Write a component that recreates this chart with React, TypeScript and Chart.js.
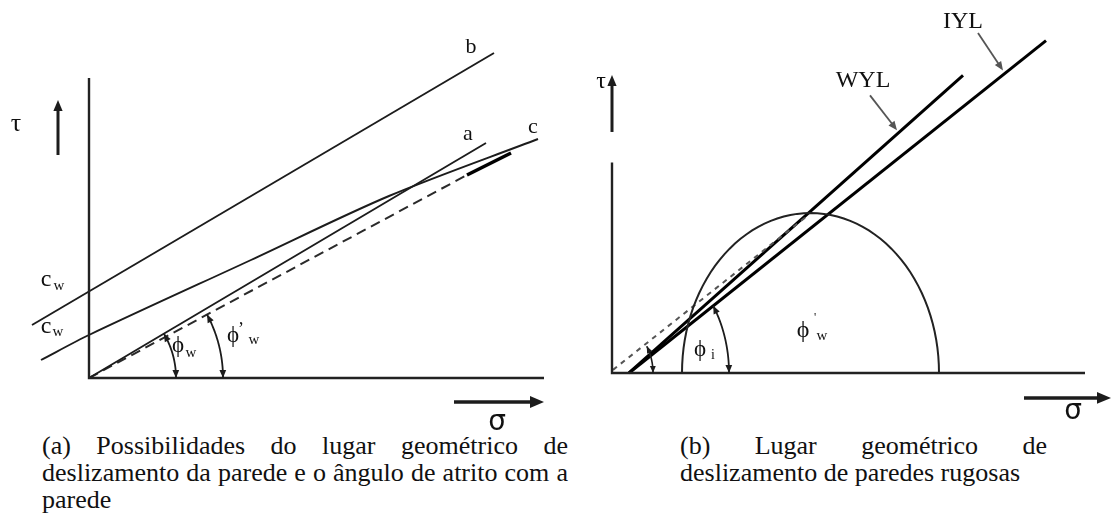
import React, { useEffect, useRef } from "react";
import { Chart, registerables } from "chart.js";

Chart.register(...registerables);

type Pt = { x: number; y: number };

// ---------- Panel (a): wall yield loci and wall friction angle ----------
const axesA: Pt[] = [
  { x: 0, y: 30 },
  { x: 0, y: 0 },
  { x: 45.5, y: 0 },
];
const locusB: Pt[] = [
  { x: -5.7, y: 5.3 },
  { x: 40.5, y: 32.5 },
];
const locusA: Pt[] = [
  { x: 0, y: 0 },
  { x: 39.7, y: 23.5 },
];
const locusC: Pt[] = [
  { x: -4.8, y: 1.8 },
  { x: 0, y: 4.3 },
  { x: 16.2, y: 11.8 },
  { x: 30.0, y: 18.2 },
  { x: 44.9, y: 23.9 },
];
const secantDashed: Pt[] = [
  { x: 0, y: 0 },
  { x: 37.8, y: 20.3 },
];
const secantSolid: Pt[] = [
  { x: 37.8, y: 20.3 },
  { x: 42.2, y: 22.5 },
];

// ---------- Panel (b): rough walls ----------
const axesB: Pt[] = [
  { x: 0, y: 16.9 },
  { x: 0, y: 0 },
  { x: 47.3, y: 0 },
];
const wyl: Pt[] = [
  { x: 1.7, y: 0 },
  { x: 35.1, y: 23.9 },
];
const iyl: Pt[] = [
  { x: 1.7, y: 0 },
  { x: 43.4, y: 26.7 },
];
const wallDashed: Pt[] = [
  { x: 0.1, y: 0.25 },
  { x: 19.5, y: 12.6 },
];
const mohrCenter = 19.85;
const mohrRadius = 12.85;

const angleOf = (p: Pt, q: Pt) => Math.atan2(q.y - p.y, q.x - p.x);

type Arrow = { from: Pt; to: Pt; width: number; color: string; head: number };
type Arc = {
  cx: number;
  cy: number;
  r: number;
  a0: number;
  a1: number;
  width: number;
  color: string;
  head: number;
};
type Label = { x: number; y: number; text: string; size: number; family?: string };

const SERIF = '"Liberation Serif", "DejaVu Serif", serif';
const SANS = '"DejaVu Sans", sans-serif';

function drawHead(
  ctx: CanvasRenderingContext2D,
  from: number[],
  tip: number[],
  len: number,
  color: string
) {
  const dx = tip[0] - from[0];
  const dy = tip[1] - from[1];
  const d = Math.hypot(dx, dy) || 1;
  const ux = dx / d;
  const uy = dy / d;
  const w = len * 0.42;
  ctx.beginPath();
  ctx.moveTo(tip[0], tip[1]);
  ctx.lineTo(tip[0] - ux * len - uy * w, tip[1] - uy * len + ux * w);
  ctx.lineTo(tip[0] - ux * len + uy * w, tip[1] - uy * len - ux * w);
  ctx.closePath();
  ctx.fillStyle = color;
  ctx.fill();
}

function overlay(arcs: Arc[], arrows: Arrow[], labels: Label[]) {
  return {
    id: "overlay",
    afterDatasetsDraw(chart: Chart) {
      const ctx = chart.ctx;
      const sx = chart.scales.x;
      const sy = chart.scales.y;
      const P = (p: Pt) => [sx.getPixelForValue(p.x), sy.getPixelForValue(p.y)];
      ctx.save();
      ctx.lineCap = "butt";
      for (const a of arcs) {
        const n = 60;
        const pts: number[][] = [];
        for (let i = 0; i <= n; i++) {
          const t = a.a0 + ((a.a1 - a.a0) * i) / n;
          pts.push(P({ x: a.cx + a.r * Math.cos(t), y: a.cy + a.r * Math.sin(t) }));
        }
        ctx.beginPath();
        ctx.moveTo(pts[0][0], pts[0][1]);
        for (let i = 1; i <= n; i++) ctx.lineTo(pts[i][0], pts[i][1]);
        ctx.strokeStyle = a.color;
        ctx.lineWidth = a.width;
        ctx.stroke();
        if (a.head > 0) {
          drawHead(ctx, pts[6], pts[0], a.head, a.color);
          drawHead(ctx, pts[n - 6], pts[n], a.head, a.color);
        }
      }
      for (const ar of arrows) {
        const f = P(ar.from);
        const t = P(ar.to);
        const d = Math.hypot(t[0] - f[0], t[1] - f[1]);
        const k = (d - ar.head * 0.8) / d;
        ctx.beginPath();
        ctx.moveTo(f[0], f[1]);
        ctx.lineTo(f[0] + (t[0] - f[0]) * k, f[1] + (t[1] - f[1]) * k);
        ctx.strokeStyle = ar.color;
        ctx.lineWidth = ar.width;
        ctx.stroke();
        drawHead(ctx, f, t, ar.head, ar.color);
      }
      ctx.fillStyle = "#111";
      ctx.textAlign = "center";
      ctx.textBaseline = "middle";
      for (const l of labels) {
        ctx.font = `${l.size}px ${l.family || SERIF}`;
        const p = P(l);
        ctx.fillText(l.text, p[0], p[1]);
      }
      ctx.restore();
    },
  };
}

function line(data: Pt[], color: string, width: number, extra: Record<string, unknown> = {}) {
  return {
    data,
    showLine: true,
    borderColor: color,
    borderWidth: width,
    pointRadius: 0,
    fill: false,
    ...extra,
  };
}

function baseOptions(xmin: number, xmax: number, ymin: number, ymax: number) {
  return {
    responsive: false,
    animation: false as const,
    layout: { padding: 0 },
    plugins: { legend: { display: false }, tooltip: { enabled: false } },
    scales: {
      x: { type: "linear" as const, display: false, min: xmin, max: xmax },
      y: { type: "linear" as const, display: false, min: ymin, max: ymax },
    },
  };
}

function configA() {
  const ink = "#1c1c1c";
  const arcs: Arc[] = [
    { cx: 0, cy: 0, r: 8.7, a0: angleOf(locusA[0], locusA[1]), a1: 0, width: 1.8, color: ink, head: 8 },
    { cx: 0, cy: 0, r: 13.4, a0: angleOf(secantDashed[0], secantDashed[1]), a1: 0, width: 1.8, color: ink, head: 8 },
  ];
  const arrows: Arrow[] = [
    { from: { x: -3.1, y: 22.3 }, to: { x: -3.1, y: 27.8 }, width: 3, color: ink, head: 11 },
    { from: { x: 36.5, y: -2.4 }, to: { x: 45.5, y: -2.4 }, width: 3.5, color: ink, head: 14 },
  ];
  const labels: Label[] = [
    { x: -7.3, y: 25.4, text: "τ", size: 26 },
    { x: -4.3, y: 9.8, text: "c", size: 24 },
    { x: -3.0, y: 9.2, text: "w", size: 15 },
    { x: -4.3, y: 5.1, text: "c", size: 24 },
    { x: -3.1, y: 4.6, text: "w", size: 15 },
    { x: 38.2, y: 33.1, text: "b", size: 22 },
    { x: 37.9, y: 24.4, text: "a", size: 22 },
    { x: 44.4, y: 25.1, text: "c", size: 22 },
    { x: 8.9, y: 3.2, text: "ϕ", size: 23 },
    { x: 10.2, y: 2.5, text: "w", size: 15 },
    { x: 14.4, y: 4.2, text: "ϕ", size: 23 },
    { x: 15.2, y: 4.8, text: "’", size: 18 },
    { x: 16.5, y: 3.8, text: "w", size: 15 },
    { x: 40.8, y: -4.5, text: "σ", size: 28, family: SANS },
  ];
  return {
    type: "scatter" as const,
    data: {
      datasets: [
        line(axesA, "#222", 2.4),
        line(locusB, ink, 1.9),
        line(locusA, ink, 1.9),
        line(locusC, ink, 1.9, { tension: 0.3 }),
        line(secantDashed, "#2a2a2a", 2, { borderDash: [10, 6] }),
        line(secantSolid, "#000", 3.5),
      ],
    },
    options: baseOptions(-8.9, 47.1, -5.2, 37.8),
    plugins: [overlay(arcs, arrows, labels)],
  };
}

function configB() {
  const ink = "#1c1c1c";
  const arcs: Arc[] = [
    { cx: mohrCenter, cy: 0, r: mohrRadius, a0: 0, a1: Math.PI, width: 2, color: "#222", head: 0 },
    { cx: iyl[0].x, cy: 0, r: 10, a0: angleOf(iyl[0], iyl[1]), a1: 0, width: 1.8, color: ink, head: 8 },
    { cx: wallDashed[0].x, cy: 0, r: 4.0, a0: angleOf(wallDashed[0], wallDashed[1]), a1: 0, width: 1.6, color: ink, head: 7 },
  ];
  const arrows: Arrow[] = [
    { from: { x: 0, y: 19.36 }, to: { x: 0, y: 23.94 }, width: 3, color: ink, head: 11 },
    { from: { x: 41.2, y: -2.0 }, to: { x: 49.9, y: -2.0 }, width: 3.5, color: ink, head: 14 },
    { from: { x: 25.8, y: 22.3 }, to: { x: 28.5, y: 19.5 }, width: 1.8, color: "#555", head: 9 },
    { from: { x: 36.6, y: 27.3 }, to: { x: 39.1, y: 24.3 }, width: 1.8, color: "#555", head: 9 },
  ];
  const labels: Label[] = [
    { x: -1.1, y: 23.4, text: "τ", size: 24 },
    { x: 25.1, y: 23.5, text: "WYL", size: 24 },
    { x: 35.1, y: 28.2, text: "IYL", size: 24 },
    { x: 8.8, y: 1.85, text: "ϕ", size: 23 },
    { x: 10.1, y: 1.4, text: "i", size: 14 },
    { x: 19.1, y: 3.4, text: "ϕ", size: 24 },
    { x: 20.3, y: 4.4, text: "'", size: 12 },
    { x: 21.0, y: 3.0, text: "w", size: 15 },
    { x: 46.1, y: -3.1, text: "σ", size: 28, family: SANS },
  ];
  return {
    type: "scatter" as const,
    data: {
      datasets: [
        line(axesB, "#222", 2.4),
        line(wallDashed, "#555", 2, { borderDash: [5, 5] }),
        line(wyl, "#000", 3),
        line(iyl, "#000", 3),
      ],
    },
    options: baseOptions(-5.2, 50.0, -4.58, 29.96),
    plugins: [overlay(arcs, arrows, labels)],
  };
}

function Panel({ make, left, width }: { make: () => any; left: number; width: number }) {
  const ref = useRef<HTMLCanvasElement>(null);
  useEffect(() => {
    const chart = new Chart(ref.current as HTMLCanvasElement, make());
    return () => chart.destroy();
  }, [make]);
  return (
    <canvas
      ref={ref}
      width={width}
      height={430}
      style={{ position: "absolute", left, top: 0, width, height: 430 }}
    />
  );
}

const captionFont: React.CSSProperties = {
  fontFamily: SERIF,
  fontSize: 26,
  lineHeight: "27px",
  color: "#111",
  position: "absolute",
  whiteSpace: "nowrap",
};
const justified: React.CSSProperties = { textAlign: "justify", textAlignLast: "justify" };

export default function App() {
  return (
    <div
      style={{
        position: "absolute",
        left: 0,
        top: 0,
        width: 1112,
        height: 515,
        background: "#fff",
        overflow: "hidden",
      }}
    >
      <Panel make={configA} left={0} width={560} />
      <Panel make={configB} left={560} width={552} />
      <div style={{ ...captionFont, left: 42, top: 432, width: 526, whiteSpace: "normal" }}>
        <div style={justified}>(a) Possibilidades do lugar geométrico de</div>
        <div style={justified}>deslizamento da parede e o ângulo de atrito com a</div>
        <div>parede</div>
      </div>
      <div style={{ ...captionFont, left: 680, top: 432, width: 367, whiteSpace: "normal" }}>
        <div style={justified}>(b) Lugar geométrico de</div>
        <div>deslizamento de paredes rugosas</div>
      </div>
    </div>
  );
}
